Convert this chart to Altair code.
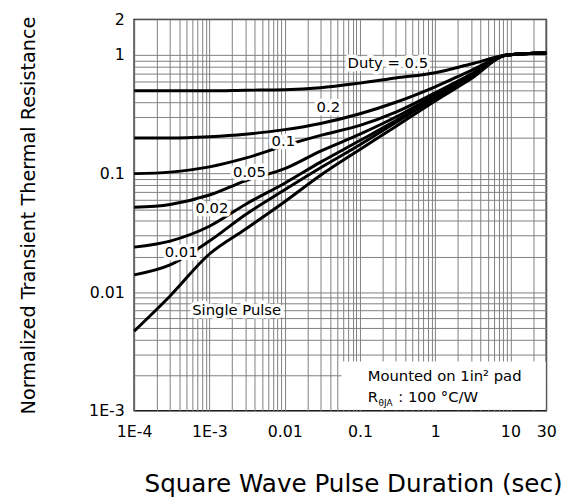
import altair as alt
import pandas as pd

# ---- data ----
pulse_t = [1e-4, 3e-4, 1e-3, 3e-3, 1e-2, 3e-2, 0.1, 0.3, 1, 3, 9, 30]
duty_05 = [0.50, 0.50, 0.50, 0.505, 0.51, 0.53, 0.58, 0.64, 0.71, 0.84, 1.0, 1.04]
duty_02 = [0.20, 0.20, 0.205, 0.215, 0.235, 0.265, 0.32, 0.40, 0.54, 0.74, 1.0, 1.04]
duty_01 = [0.10, 0.103, 0.114, 0.135, 0.172, 0.21, 0.255, 0.33, 0.48, 0.69, 1.0, 1.04]
duty_005 = [0.052, 0.055, 0.066, 0.087, 0.11, 0.155, 0.215, 0.30, 0.46, 0.67, 1.0, 1.04]
duty_002 = [0.024, 0.027, 0.036, 0.055, 0.083, 0.125, 0.19, 0.28, 0.44, 0.66, 1.0, 1.04]
duty_001 = [0.014, 0.017, 0.027, 0.045, 0.073, 0.112, 0.175, 0.27, 0.43, 0.65, 1.0, 1.04]
single = [0.0047, 0.0093, 0.021, 0.034, 0.058, 0.097, 0.16, 0.25, 0.41, 0.63, 1.0, 1.04]
series_names = ["0.5", "0.2", "0.1", "0.05", "0.02", "0.01", "Single Pulse"]
series_values = [duty_05, duty_02, duty_01, duty_005, duty_002, duty_001, single]

label_text = ["Duty = 0.5", "0.2", "0.1", "0.05", "0.02", "0.01", "Single Pulse"]
label_t = [0.235, 0.038, 0.0096, 0.0034, 0.00108, 0.00042, 0.0023]
label_r = [0.85, 0.365, 0.19, 0.104, 0.051, 0.022, 0.0070]

box_t = [0.057, 29.5]
box_r = [0.00102, 0.0026]
note_t = 0.127
note_line1_r = 0.00196
note_line2_r = 0.00131

x_tick_labels = {0.0001: "1E-4", 0.001: "1E-3", 0.01: "0.01", 0.1: "0.1", 1: "1", 10: "10", 30: "30"}
y_tick_labels = {0.001: "1E-3", 0.01: "0.01", 0.1: "0.1", 1: "1", 2: "2"}

x_grid = [round(m * 10.0 ** k, 10) for k in range(-4, 1) for m in range(1, 10)] + [10, 20, 30]
y_grid = [round(m * 10.0 ** k, 10) for k in range(-3, 0) for m in range(1, 10)] + [1, 2]

# ---- tables ----
rows = []
for name, ys in zip(series_names, series_values):
    for t, r in zip(pulse_t, ys):
        rows.append({"series": name, "t": t, "r": r})
curves = pd.DataFrame(rows)
labels = pd.DataFrame({"text": label_text, "t": label_t, "r": label_r})
box = pd.DataFrame({"t": [box_t[0]], "t2": [box_t[1]], "r": [box_r[0]], "r2": [box_r[1]]})


def label_expr(mapping):
    parts = [f"datum.value === {repr(float(v))} ? '{s}'" for v, s in mapping.items()]
    return " : ".join(parts) + " : ''"


FONT = "DejaVu Sans"
GRID = "#7f7f7f"

xscale = alt.Scale(type="log", domain=[1e-4, 30], nice=False)
yscale = alt.Scale(type="log", domain=[1e-3, 2], nice=False)

x_axis = alt.Axis(values=x_grid, labelExpr=label_expr(x_tick_labels), grid=True, ticks=False,
                  gridColor=GRID, gridWidth=1, gridOpacity=1,
                  domain=False, labelOverlap=False, labelFont=FONT, labelFontSize=16,
                  labelColor="black", labelPadding=13, labelFlush=False,
                  title="Square Wave Pulse Duration (sec)", titleFont=FONT, titleFontSize=25,
                  titleFontWeight="normal", titleColor="black", titlePadding=33,
                  titleX=222, titleAlign="center")
y_axis = alt.Axis(values=y_grid, labelExpr=label_expr(y_tick_labels), grid=True, ticks=False,
                  gridColor=GRID, gridWidth=1, gridOpacity=1,
                  domain=False, labelOverlap=False, labelFont=FONT, labelFontSize=16,
                  labelColor="black", labelPadding=10, labelFlush=False,
                  title="Normalized Transient Thermal Resistance", titleFont=FONT, titleFontSize=19.5,
                  titleFontWeight="normal", titleColor="black", titlePadding=51)

lines = alt.Chart(curves).mark_line(color="black", strokeWidth=3, interpolate="monotone").encode(
    x=alt.X("t:Q", scale=xscale, axis=x_axis),
    y=alt.Y("r:Q", scale=yscale, axis=y_axis),
    detail="series:N",
)

box_layer = alt.Chart(box).mark_rect(fill="white").encode(
    x="t:Q", x2="t2:Q", y="r:Q", y2="r2:Q"
)

halo = alt.Chart(labels).mark_text(font=FONT, fontSize=15, stroke="white", strokeWidth=7,
                                   strokeJoin="round", fill="white").encode(
    x="t:Q", y="r:Q", text="text:N"
)
label_layer = alt.Chart(labels).mark_text(font=FONT, fontSize=15, color="black").encode(
    x="t:Q", y="r:Q", text="text:N"
)

note_df1 = pd.DataFrame({"t": [note_t], "r": [note_line1_r], "text": ["Mounted on 1in\u00b2 pad"]})
note_df2 = pd.DataFrame({"t": [note_t], "r": [note_line2_r], "text": ["R"]})
note_df3 = pd.DataFrame({"t": [note_t], "r": [note_line2_r], "text": ["\u03b8JA"]})
note_df4 = pd.DataFrame({"t": [note_t], "r": [note_line2_r], "text": [": 100 \u00b0C/W"]})

note1 = alt.Chart(note_df1).mark_text(font=FONT, fontSize=15, align="left", color="black").encode(
    x="t:Q", y="r:Q", text="text:N")
note2 = alt.Chart(note_df2).mark_text(font=FONT, fontSize=15, align="left", color="black").encode(
    x="t:Q", y="r:Q", text="text:N")
note3 = alt.Chart(note_df3).mark_text(font=FONT, fontSize=9, align="left", dx=11, dy=6,
                                      color="black").encode(x="t:Q", y="r:Q", text="text:N")
note4 = alt.Chart(note_df4).mark_text(font=FONT, fontSize=15, align="left", dx=31,
                                      color="black").encode(x="t:Q", y="r:Q", text="text:N")

chart = alt.layer(box_layer, lines, halo, label_layer, note1, note2, note3, note4).properties(
    width=418, height=397,
    padding={"left": 128, "top": 8, "right": 22, "bottom": 89},
    autosize=alt.AutoSizeParams(type="none"),
    background="white",
).configure_view(stroke="black", strokeWidth=1.5)

chart.save("out.html", embed_options={"renderer": "svg", "actions": False})
